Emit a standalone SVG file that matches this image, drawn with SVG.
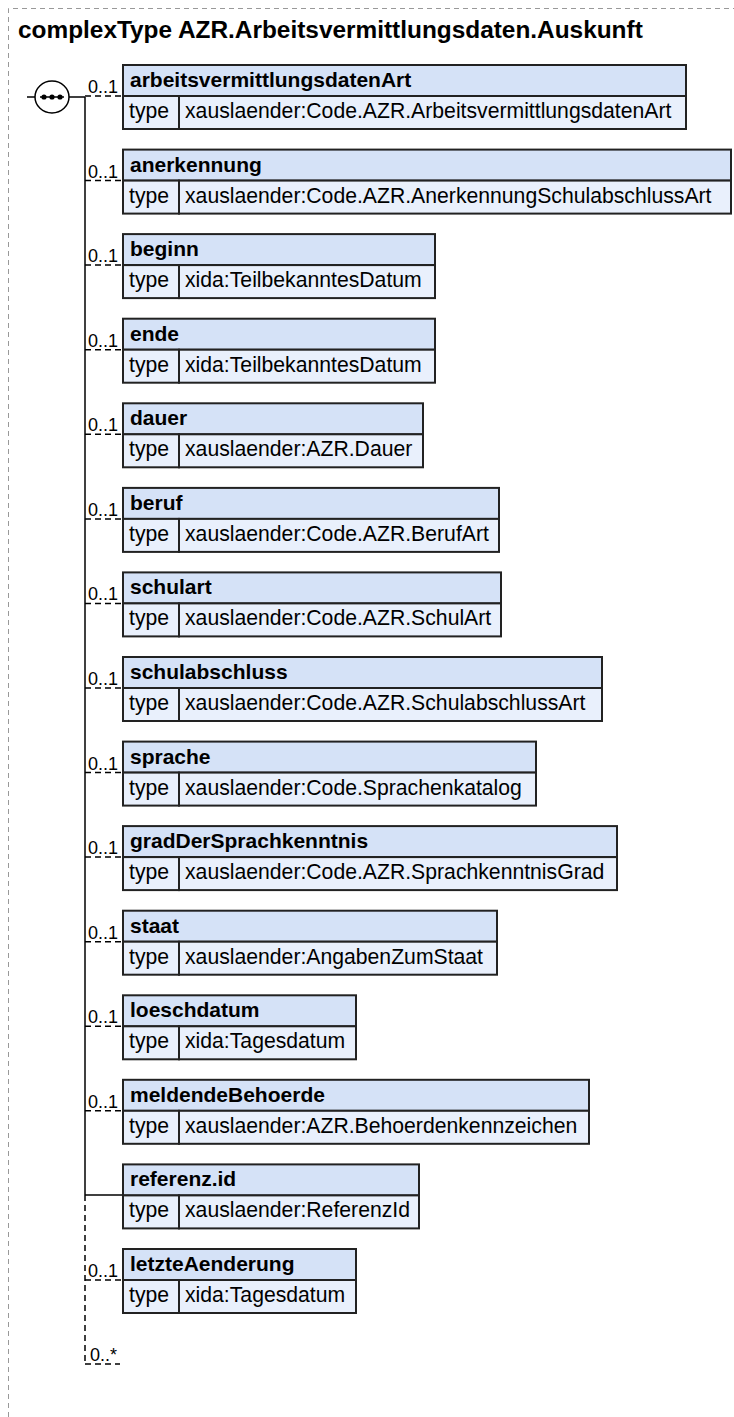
<svg xmlns="http://www.w3.org/2000/svg" width="734" height="1417" viewBox="0 0 734 1417">
<style>
.frame{fill:none;stroke:#999;stroke-width:1;stroke-dasharray:5,4}
.title{font-family:"Liberation Sans",Arial,sans-serif;font-weight:bold;font-size:24.4px;fill:#000}
.hd{fill:#d5e2f7;stroke:#222;stroke-width:2}
.tp{fill:#e9f0fc;stroke:#222;stroke-width:2}
.nm{font-family:"Liberation Sans",Arial,sans-serif;font-weight:bold;font-size:21px;fill:#000}
.tx{font-family:"Liberation Sans",Arial,sans-serif;font-size:21.2px;fill:#000}
.card{font-family:"Liberation Sans",Arial,sans-serif;font-size:18px;fill:#000}
.solid{fill:none;stroke:#000;stroke-width:1.5}
.dash{fill:none;stroke:#000;stroke-width:1.5;stroke-dasharray:6,4}
</style>
<path class="frame" d="M8.5,1417 V8.5 H734"/>
<text class="title" x="18" y="38">complexType AZR.Arbeitsvermittlungsdaten.Auskunft</text>

<g id="connectors">
  <line class="solid" x1="27" y1="97" x2="35" y2="97"/>
  <line class="solid" x1="69" y1="97" x2="85" y2="97"/>
  <line class="solid" x1="85" y1="97" x2="85" y2="1195"/>
  <line class="dash" x1="85" y1="1195" x2="85" y2="1364"/>
  <line class="solid" x1="85" y1="1195" x2="123" y2="1195"/>
  <g id="cards">
    <path class="dash" d="M85,96 H123 M85,180.6 H123 M85,265.1 H123 M85,349.7 H123 M85,434.3 H123 M85,518.9 H123 M85,603.4 H123 M85,688 H123 M85,772.6 H123 M85,857.1 H123 M85,941.7 H123 M85,1026.3 H123 M85,1110.8 H123 M85,1280 H123 M85,1364 H120"/>
    <text class="card" x="88" y="93">0..1</text>
    <text class="card" x="88" y="177.6">0..1</text>
    <text class="card" x="88" y="262.1">0..1</text>
    <text class="card" x="88" y="346.7">0..1</text>
    <text class="card" x="88" y="431.3">0..1</text>
    <text class="card" x="88" y="515.9">0..1</text>
    <text class="card" x="88" y="600.4">0..1</text>
    <text class="card" x="88" y="685">0..1</text>
    <text class="card" x="88" y="769.6">0..1</text>
    <text class="card" x="88" y="854.1">0..1</text>
    <text class="card" x="88" y="938.7">0..1</text>
    <text class="card" x="88" y="1023.3">0..1</text>
    <text class="card" x="88" y="1107.8">0..1</text>
    <text class="card" x="88" y="1277">0..1</text>
    <text class="card" x="90" y="1361">0..*</text>
  </g>
</g>

<g id="sequence">
  <ellipse cx="52" cy="97" rx="17" ry="16" fill="#fff" stroke="#000" stroke-width="1.5"/>
  <line x1="40" y1="97" x2="64" y2="97" stroke="#000" stroke-width="1.5"/>
  <circle cx="44" cy="97" r="2.6" fill="#000"/>
  <circle cx="52" cy="97" r="2.6" fill="#000"/>
  <circle cx="60" cy="97" r="2.6" fill="#000"/>
</g>

<g id="n1" transform="translate(0,65)">
  <rect class="hd" x="123" y="0" width="563" height="31"/>
  <rect class="tp" x="123" y="31" width="56" height="33"/>
  <rect class="tp" x="179" y="31" width="507" height="33"/>
  <text class="nm" x="130" y="22">arbeitsvermittlungsdatenArt</text>
  <text class="tx" x="129" y="53">type</text>
  <text class="tx" x="185" y="53">xauslaender:Code.AZR.ArbeitsvermittlungsdatenArt</text>
</g>
<g id="n2" transform="translate(0,149.6)">
  <rect class="hd" x="123" y="0" width="608" height="31"/>
  <rect class="tp" x="123" y="31" width="56" height="33"/>
  <rect class="tp" x="179" y="31" width="552" height="33"/>
  <text class="nm" x="130" y="22">anerkennung</text>
  <text class="tx" x="129" y="53">type</text>
  <text class="tx" x="185" y="53">xauslaender:Code.AZR.AnerkennungSchulabschlussArt</text>
</g>
<g id="n3" transform="translate(0,234.1)">
  <rect class="hd" x="123" y="0" width="312" height="31"/>
  <rect class="tp" x="123" y="31" width="56" height="33"/>
  <rect class="tp" x="179" y="31" width="256" height="33"/>
  <text class="nm" x="130" y="22">beginn</text>
  <text class="tx" x="129" y="53">type</text>
  <text class="tx" x="185" y="53">xida:TeilbekanntesDatum</text>
</g>
<g id="n4" transform="translate(0,318.7)">
  <rect class="hd" x="123" y="0" width="312" height="31"/>
  <rect class="tp" x="123" y="31" width="56" height="33"/>
  <rect class="tp" x="179" y="31" width="256" height="33"/>
  <text class="nm" x="130" y="22">ende</text>
  <text class="tx" x="129" y="53">type</text>
  <text class="tx" x="185" y="53">xida:TeilbekanntesDatum</text>
</g>
<g id="n5" transform="translate(0,403.3)">
  <rect class="hd" x="123" y="0" width="300" height="31"/>
  <rect class="tp" x="123" y="31" width="56" height="33"/>
  <rect class="tp" x="179" y="31" width="244" height="33"/>
  <text class="nm" x="130" y="22">dauer</text>
  <text class="tx" x="129" y="53">type</text>
  <text class="tx" x="185" y="53">xauslaender:AZR.Dauer</text>
</g>
<g id="n6" transform="translate(0,487.9)">
  <rect class="hd" x="123" y="0" width="376" height="31"/>
  <rect class="tp" x="123" y="31" width="56" height="33"/>
  <rect class="tp" x="179" y="31" width="320" height="33"/>
  <text class="nm" x="130" y="22">beruf</text>
  <text class="tx" x="129" y="53">type</text>
  <text class="tx" x="185" y="53">xauslaender:Code.AZR.BerufArt</text>
</g>
<g id="n7" transform="translate(0,572.4)">
  <rect class="hd" x="123" y="0" width="378" height="31"/>
  <rect class="tp" x="123" y="31" width="56" height="33"/>
  <rect class="tp" x="179" y="31" width="322" height="33"/>
  <text class="nm" x="130" y="22">schulart</text>
  <text class="tx" x="129" y="53">type</text>
  <text class="tx" x="185" y="53">xauslaender:Code.AZR.SchulArt</text>
</g>
<g id="n8" transform="translate(0,657)">
  <rect class="hd" x="123" y="0" width="479" height="31"/>
  <rect class="tp" x="123" y="31" width="56" height="33"/>
  <rect class="tp" x="179" y="31" width="423" height="33"/>
  <text class="nm" x="130" y="22">schulabschluss</text>
  <text class="tx" x="129" y="53">type</text>
  <text class="tx" x="185" y="53">xauslaender:Code.AZR.SchulabschlussArt</text>
</g>
<g id="n9" transform="translate(0,741.6)">
  <rect class="hd" x="123" y="0" width="413" height="31"/>
  <rect class="tp" x="123" y="31" width="56" height="33"/>
  <rect class="tp" x="179" y="31" width="357" height="33"/>
  <text class="nm" x="130" y="22">sprache</text>
  <text class="tx" x="129" y="53">type</text>
  <text class="tx" x="185" y="53">xauslaender:Code.Sprachenkatalog</text>
</g>
<g id="n10" transform="translate(0,826.1)">
  <rect class="hd" x="123" y="0" width="494" height="31"/>
  <rect class="tp" x="123" y="31" width="56" height="33"/>
  <rect class="tp" x="179" y="31" width="438" height="33"/>
  <text class="nm" x="130" y="22">gradDerSprachkenntnis</text>
  <text class="tx" x="129" y="53">type</text>
  <text class="tx" x="185" y="53">xauslaender:Code.AZR.SprachkenntnisGrad</text>
</g>
<g id="n11" transform="translate(0,910.7)">
  <rect class="hd" x="123" y="0" width="374" height="31"/>
  <rect class="tp" x="123" y="31" width="56" height="33"/>
  <rect class="tp" x="179" y="31" width="318" height="33"/>
  <text class="nm" x="130" y="22">staat</text>
  <text class="tx" x="129" y="53">type</text>
  <text class="tx" x="185" y="53">xauslaender:AngabenZumStaat</text>
</g>
<g id="n12" transform="translate(0,995.3)">
  <rect class="hd" x="123" y="0" width="233" height="31"/>
  <rect class="tp" x="123" y="31" width="56" height="33"/>
  <rect class="tp" x="179" y="31" width="177" height="33"/>
  <text class="nm" x="130" y="22">loeschdatum</text>
  <text class="tx" x="129" y="53">type</text>
  <text class="tx" x="185" y="53">xida:Tagesdatum</text>
</g>
<g id="n13" transform="translate(0,1079.8)">
  <rect class="hd" x="123" y="0" width="466" height="31"/>
  <rect class="tp" x="123" y="31" width="56" height="33"/>
  <rect class="tp" x="179" y="31" width="410" height="33"/>
  <text class="nm" x="130" y="22">meldendeBehoerde</text>
  <text class="tx" x="129" y="53">type</text>
  <text class="tx" x="185" y="53">xauslaender:AZR.Behoerdenkennzeichen</text>
</g>
<g id="n14" transform="translate(0,1164.4)">
  <rect class="hd" x="123" y="0" width="296" height="31"/>
  <rect class="tp" x="123" y="31" width="56" height="33"/>
  <rect class="tp" x="179" y="31" width="240" height="33"/>
  <text class="nm" x="130" y="22">referenz.id</text>
  <text class="tx" x="129" y="53">type</text>
  <text class="tx" x="185" y="53">xauslaender:ReferenzId</text>
</g>
<g id="n15" transform="translate(0,1249)">
  <rect class="hd" x="123" y="0" width="233" height="31"/>
  <rect class="tp" x="123" y="31" width="56" height="33"/>
  <rect class="tp" x="179" y="31" width="177" height="33"/>
  <text class="nm" x="130" y="22">letzteAenderung</text>
  <text class="tx" x="129" y="53">type</text>
  <text class="tx" x="185" y="53">xida:Tagesdatum</text>
</g>
</svg>
